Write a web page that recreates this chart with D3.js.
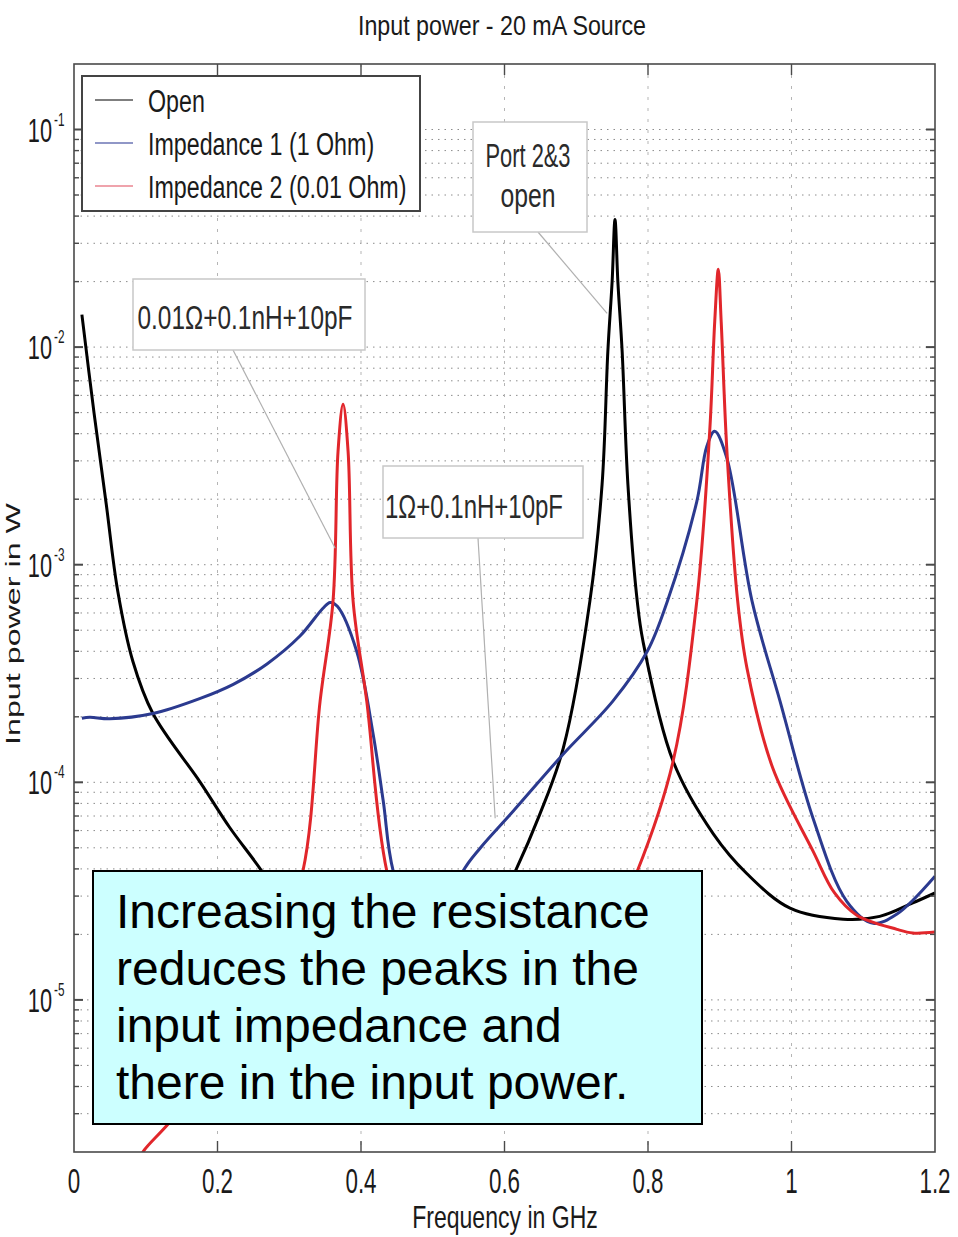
<!DOCTYPE html>
<meta charset="utf-8">
<html>
<head>
  <title>Input power - 20 mA Source</title>
  <style>
    body { margin: 0; background: #fff; }
    svg { display: block; font-family: "Liberation Sans", Arial, sans-serif; }
  </style>
</head>
<body>
<svg id="chart" width="958" height="1237"></svg>

<script src="https://d3js.org/d3.v7.min.js"></script>
<script>

// --- data (frequency in GHz, power in W) ---
const openFreq  = [0.011, 0.028, 0.045, 0.061, 0.082, 0.110, 0.176, 0.217, 0.262, 0.350, 0.450, 0.530, 0.615, 0.649, 0.682, 0.719, 0.736, 0.744, 0.750, 0.754, 0.758, 0.764, 0.772, 0.785, 0.793, 0.835, 0.891, 0.938, 0.998, 1.072, 1.123, 1.169, 1.200];
const openPower = [1.41e-2, 4.96e-3, 1.89e-3, 7.55e-4, 3.6e-4, 2.07e-4, 1.0e-4, 6.2e-5, 3.9e-5, 1.4e-5, 7e-6, 1.1e-5, 3.9e-5, 7.1e-5, 1.44e-4, 6.8e-4, 2.34e-3, 9.5e-3, 2.0e-2, 3.86e-2, 2.0e-2, 9.5e-3, 2.34e-3, 6.8e-4, 4.45e-4, 1.25e-4, 5.8e-5, 3.8e-5, 2.64e-5, 2.35e-5, 2.42e-5, 2.79e-5, 3.1e-5];

const imp1Freq  = [0.011, 0.022, 0.050, 0.110, 0.176, 0.222, 0.269, 0.315, 0.347, 0.357, 0.367, 0.394, 0.417, 0.431, 0.445, 0.490, 0.542, 0.566, 0.612, 0.682, 0.751, 0.799, 0.827, 0.868, 0.882, 0.893, 0.910, 0.945, 0.984, 1.030, 1.077, 1.114, 1.147, 1.200];
const imp1Power = [1.97e-4, 1.99e-4, 1.96e-4, 2.07e-4, 2.43e-4, 2.82e-4, 3.5e-4, 4.7e-4, 6.31e-4, 6.71e-4, 6.44e-4, 4.0e-4, 1.66e-4, 8.2e-5, 3.9e-5, 1.6e-5, 3.9e-5, 4.98e-5, 7.36e-5, 1.35e-4, 2.36e-4, 4.0e-4, 6.8e-4, 1.95e-3, 3.5e-3, 4.1e-3, 3.08e-3, 6.8e-4, 2.36e-4, 6.84e-5, 2.84e-5, 2.25e-5, 2.48e-5, 3.7e-5];

const imp2Freq  = [0.090, 0.096, 0.130, 0.200, 0.270, 0.319, 0.343, 0.361, 0.368, 0.375, 0.382, 0.389, 0.408, 0.436, 0.500, 0.600, 0.700, 0.785, 0.835, 0.868, 0.886, 0.893, 0.898, 0.902, 0.910, 0.925, 0.938, 0.974, 1.030, 1.060, 1.091, 1.147, 1.169, 1.200];
const imp2Power = [1.8e-6, 2.0e-6, 2.66e-6, 5e-6, 1.3e-5, 3.9e-5, 2.36e-4, 6.8e-4, 3.32e-3, 5.46e-3, 3.32e-3, 6.8e-4, 2.36e-4, 3.9e-5, 8e-6, 4e-6, 1.0e-5, 3.9e-5, 1.25e-4, 6.8e-4, 4.1e-3, 1.31e-2, 2.28e-2, 1.31e-2, 3.32e-3, 6.8e-4, 3.34e-4, 1.16e-4, 4.83e-5, 3.1e-5, 2.45e-5, 2.11e-5, 2.03e-5, 2.05e-5];

const seriesNames = ["Open", "Impedance 1 (1 Ohm)", "Impedance 2 (0.01 Ohm)"];
const xTicks = [0, 0.2, 0.4, 0.6, 0.8, 1, 1.2];
const yDecades = [-1, -2, -3, -4, -5];
const noteText = ["Increasing the resistance", "reduces the peaks in the", "input impedance and", "there in the input power."];

// --- layout ---
const svg = d3.select("#chart");
const plotL = 74, plotR = 935, plotT = 64, plotB = 1152;

const x = d3.scaleLinear().domain([0, 1.2]).range([plotL, plotR]);
const y = d3.scaleLog().domain([2e-6, 0.2]).range([plotB, plotT]);

const series = [
  { name: seriesNames[0], freq: openFreq, power: openPower, color: "#000000", key: "#555555" },
  { name: seriesNames[1], freq: imp1Freq, power: imp1Power, color: "#2b3a8f", key: "#6b74b4" },
  { name: seriesNames[2], freq: imp2Freq, power: imp2Power, color: "#e1262b", key: "#ea8590" }
];

// squeeze text horizontally, the picture uses a narrow face
function squeeze(sel, k) {
  sel.each(function() {
    const w = this.getComputedTextLength();
    d3.select(this).attr("textLength", w * k).attr("lengthAdjust", "spacingAndGlyphs");
  });
}

svg.append("defs").append("clipPath").attr("id", "plotclip")
  .append("rect").attr("x", plotL).attr("y", plotT).attr("width", plotR - plotL).attr("height", plotB - plotT);

// grid: every decade and its minors
const gridVals = [];
for (let d = -6; d <= -1; d++) {
  for (let k = 1; k <= 9; k++) {
    const v = k * Math.pow(10, d);
    if (v > 2e-6 * 1.001 && v < 0.2 * 0.999) gridVals.push(v);
  }
}
const majors = yDecades.map(e => Math.pow(10, e));
const isMajor = v => majors.some(m => Math.abs(m - v) / m < 1e-6);

svg.append("g").selectAll("line").data(gridVals).join("line")
  .attr("x1", plotL).attr("x2", plotR)
  .attr("y1", d => y(d)).attr("y2", d => y(d))
  .attr("stroke", "#8c8c8c").attr("stroke-width", 1)
  .attr("stroke-dasharray", "1.5,5");

svg.append("g").selectAll("line").data(xTicks.slice(1, -1)).join("line")
  .attr("x1", d => x(d)).attr("x2", d => x(d))
  .attr("y1", plotT).attr("y2", plotB)
  .attr("stroke", "#b5b5b5").attr("stroke-width", 1)
  .attr("stroke-dasharray", "3,8");

// curves
const line = d3.line()
  .x(d => x(d[0]))
  .y(d => y(d[1]))
  .curve(d3.curveCatmullRom.alpha(0.5));

svg.append("g").attr("clip-path", "url(#plotclip)")
  .selectAll("path").data(series).join("path")
  .attr("d", s => line(d3.zip(s.freq, s.power)))
  .attr("fill", "none")
  .attr("stroke", s => s.color)
  .attr("stroke-width", 3)
  .attr("stroke-linejoin", "round");

// frame and ticks
const frame = svg.append("g").attr("stroke", "#4a4a4a").attr("fill", "none");
frame.append("rect").attr("x", plotL).attr("y", plotT).attr("width", plotR - plotL).attr("height", plotB - plotT)
  .attr("stroke-width", 1.6);

frame.selectAll("line.xt").data(xTicks.slice(1, -1)).join("line").attr("class", "xt")
  .attr("x1", d => x(d)).attr("x2", d => x(d)).attr("y1", plotB).attr("y2", plotB - 11)
  .attr("stroke-width", 1.4);
frame.selectAll("line.xtt").data(xTicks.slice(1, -1)).join("line").attr("class", "xtt")
  .attr("x1", d => x(d)).attr("x2", d => x(d)).attr("y1", plotT).attr("y2", plotT + 11)
  .attr("stroke-width", 1.4);

[plotL, plotR].forEach(edge => {
  const dir = edge === plotL ? 1 : -1;
  frame.append("g").selectAll("line").data(gridVals).join("line")
    .attr("x1", edge).attr("x2", d => edge + dir * (isMajor(d) ? 9 : 5))
    .attr("y1", d => y(d)).attr("y2", d => y(d))
    .attr("stroke-width", d => isMajor(d) ? 2 : 1.4);
});

// x tick labels
svg.append("g").selectAll("text").data(xTicks).join("text")
  .attr("x", d => x(d)).attr("y", 1193)
  .attr("text-anchor", "middle")
  .attr("font-size", 35).attr("fill", "#1a1a1a")
  .text(d => d3.format("~g")(d))
  .call(squeeze, 0.64);

// y tick labels: 10 with exponent
const ylab = svg.append("g").attr("fill", "#1a1a1a");
ylab.selectAll("text.base").data(yDecades).join("text").attr("class", "base")
  .attr("x", 52).attr("y", d => y(Math.pow(10, d)) + 12)
  .attr("text-anchor", "end").attr("font-size", 33)
  .text("10")
  .call(squeeze, 0.66);
ylab.selectAll("text.exp").data(yDecades).join("text").attr("class", "exp")
  .attr("x", 54).attr("y", d => y(Math.pow(10, d)) - 4)
  .attr("font-size", 19)
  .text(d => "-" + (-d))
  .call(squeeze, 0.62);

// axis titles
svg.append("text").attr("x", 502).attr("y", 35).attr("text-anchor", "middle")
  .attr("font-size", 28).attr("fill", "#1a1a1a")
  .text("Input power - 20 mA Source").call(squeeze, 0.83);

svg.append("text").attr("x", 505).attr("y", 1228).attr("text-anchor", "middle")
  .attr("font-size", 32).attr("fill", "#1a1a1a")
  .text("Frequency in GHz").call(squeeze, 0.72);

svg.append("text").attr("transform", "translate(20,624) rotate(-90)")
  .attr("text-anchor", "middle").attr("font-size", 21).attr("fill", "#1a1a1a")
  .text("Input power in W")
  .attr("textLength", 242).attr("lengthAdjust", "spacingAndGlyphs");

// annotations: leader line from the box to a point on a curve
const notes = [
  { lines: ["Port 2&3", "open"], box: [473, 122, 114, 110], tx: 528, ty: [167, 207], widths: [85, 55], from: [538, 232], at: [0.743, 0.0143] },
  { lines: ["0.01\u03a9+0.1nH+10pF"], box: [133, 279, 232, 71], tx: 245, ty: [329], widths: [215], from: [233, 350], at: [0.364, 1.19e-3] },
  { lines: ["1\u03a9+0.1nH+10pF"], box: [383, 466, 200, 72], tx: 474, ty: [518], widths: [178], from: [478, 538], at: [0.587, 6.84e-5] }
];

const ann = svg.append("g");
notes.forEach(n => {
  ann.append("line")
    .attr("x1", n.from[0]).attr("y1", n.from[1])
    .attr("x2", x(n.at[0])).attr("y2", y(n.at[1]))
    .attr("stroke", "#b0b0b0").attr("stroke-width", 1.2);
  ann.append("rect")
    .attr("x", n.box[0]).attr("y", n.box[1]).attr("width", n.box[2]).attr("height", n.box[3])
    .attr("fill", "#fff").attr("stroke", "#c8c8c8").attr("stroke-width", 1.5);
  n.lines.forEach((t, i) => {
    ann.append("text")
      .attr("x", n.tx).attr("y", n.ty[i]).attr("text-anchor", "middle")
      .attr("font-size", 34).attr("fill", "#2a2a2a")
      .text(t)
      .attr("textLength", n.widths[i]).attr("lengthAdjust", "spacingAndGlyphs");
  });
});

// legend
const legend = svg.append("g");
legend.append("rect").attr("x", 82).attr("y", 76).attr("width", 338).attr("height", 135)
  .attr("fill", "#fff").attr("stroke", "#444").attr("stroke-width", 2);
const item = legend.selectAll("g.item").data(series).join("g").attr("class", "item")
  .attr("transform", (d, i) => `translate(0,${100 + i * 43})`);
item.append("line").attr("x1", 95).attr("x2", 133).attr("y1", 0).attr("y2", 0)
  .attr("stroke", d => d.key).attr("stroke-width", 1.6);
item.append("text").attr("x", 148).attr("y", 12)
  .attr("font-size", 31).attr("fill", "#1a1a1a")
  .text(d => d.name)
  .call(squeeze, 0.75);

// cyan comment box
const note = svg.append("g");
note.append("rect").attr("x", 93).attr("y", 871).attr("width", 609).attr("height", 253)
  .attr("fill", "#ccffff").attr("stroke", "#000").attr("stroke-width", 2);
note.selectAll("text").data(noteText).join("text")
  .attr("x", 116).attr("y", (d, i) => 928 + i * 57)
  .attr("font-size", 48).attr("fill", "#000")
  .text(d => d);

</script>
</body>
</html>
